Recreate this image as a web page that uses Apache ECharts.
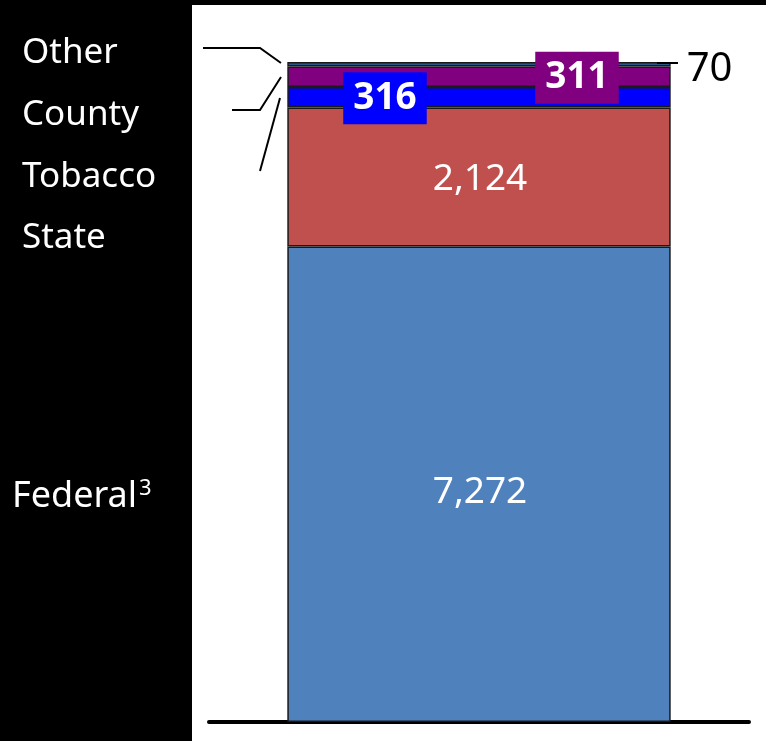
<!DOCTYPE html>
<html>
<head>
<meta charset="utf-8">
<script src="https://cdn.jsdelivr.net/npm/echarts@6/dist/echarts.min.js"></script>
<style>
html,body{margin:0;padding:0;background:#fff;}
#chart{width:766px;height:741px;}
</style>
</head>
<body>
<div id="chart"></div>
<script>
const categories = ['Total'];
const seriesNames = ['Federal', 'State', 'Tobacco', 'County', 'Other'];
const federal = [7272];
const state = [2124];
const tobacco = [316];
const county = [311];
const other = [70];

const FONT = '"Noto Sans", "Open Sans", sans-serif';
const fmt = p => Number(p.value).toLocaleString('en-US');
const border = { borderColor: '#1a1a1a', borderWidth: 1.5 };

const chart = echarts.init(document.getElementById('chart'));
chart.setOption({
  backgroundColor: '#ffffff',
  animation: false,
  grid: { left: 209, right: 17, top: 62, bottom: 19 },
  xAxis: {
    type: 'category', data: categories,
    axisLine: { show: true, lineStyle: { color: '#000', width: 4 } },
    axisTick: { show: false }, axisLabel: { show: false }
  },
  yAxis: { type: 'value', min: 0, max: v => v.max, show: false, splitLine: { show: false } },
  series: [
    { name: seriesNames[0], type: 'bar', stack: 't', barWidth: '71%', data: federal,
      itemStyle: Object.assign({ color: '#4f81bd' }, border),
      label: { show: true, position: 'inside', offset: [1, 8], color: '#fff', fontFamily: FONT, fontSize: 37, formatter: fmt } },
    { name: seriesNames[1], type: 'bar', stack: 't', data: state,
      itemStyle: Object.assign({ color: '#c0504d' }, border),
      label: { show: true, position: 'inside', offset: [1, 2], color: '#fff', fontFamily: FONT, fontSize: 37, formatter: fmt } },
    { name: seriesNames[2], type: 'bar', stack: 't', data: tobacco,
      itemStyle: Object.assign({ color: '#0000ff' }, border),
      label: { show: true, position: 'inside', offset: [-94, 1], color: '#fff', fontFamily: FONT, fontWeight: 'bold', fontSize: 37,
        backgroundColor: '#0000ff', padding: [7, 10, 5, 10], lineHeight: 40, formatter: fmt } },
    { name: seriesNames[3], type: 'bar', stack: 't', data: county,
      itemStyle: Object.assign({ color: '#800080' }, border),
      label: { show: true, position: 'inside', offset: [98, 1], color: '#fff', fontFamily: FONT, fontWeight: 'bold', fontSize: 37,
        backgroundColor: '#800080', padding: [7, 10, 5, 10], lineHeight: 40, formatter: fmt } },
    { name: seriesNames[4], type: 'bar', stack: 't', data: other,
      itemStyle: Object.assign({ color: '#2b5689' }, border),
      label: { show: true, position: 'right', distance: 16, offset: [0, 5], color: '#000', fontFamily: FONT, fontSize: 40, formatter: fmt } }
  ],
  graphic: [
    { type: 'rect', shape: { x: 0, y: 0, width: 192, height: 741 }, style: { fill: '#000' }, z: -10 },
    { type: 'rect', shape: { x: 0, y: 0, width: 766, height: 5 }, style: { fill: '#000' }, z: -10 },
    { type: 'text', x: 22, y: 53, style: { text: seriesNames[4], fill: '#fff', font: '35px ' + FONT, verticalAlign: 'middle' } },
    { type: 'text', x: 22, y: 115, style: { text: seriesNames[3], fill: '#fff', font: '35px ' + FONT, verticalAlign: 'middle' } },
    { type: 'text', x: 22, y: 177, style: { text: seriesNames[2], fill: '#fff', font: '35px ' + FONT, verticalAlign: 'middle' } },
    { type: 'text', x: 22, y: 238, style: { text: seriesNames[1], fill: '#fff', font: '35px ' + FONT, verticalAlign: 'middle' } },
    { type: 'text', x: 12, y: 497, style: { text: seriesNames[0], fill: '#fff', font: '36px ' + FONT, verticalAlign: 'middle' } },
    { type: 'text', x: 139, y: 489, style: { text: '3', fill: '#fff', font: '22px ' + FONT, verticalAlign: 'middle' } },
    { type: 'polyline', shape: { points: [[203, 48], [260, 48], [281, 63]] }, style: { stroke: '#000', lineWidth: 2, fill: null } },
    { type: 'polyline', shape: { points: [[232, 110], [260, 110], [281, 77]] }, style: { stroke: '#000', lineWidth: 2, fill: null } },
    { type: 'polyline', shape: { points: [[280, 98], [260, 171]] }, style: { stroke: '#000', lineWidth: 2, fill: null } },
    { type: 'polyline', shape: { points: [[657, 63], [678, 63]] }, style: { stroke: '#000', lineWidth: 2, fill: null }, z: 100 }
  ]
});
</script>
</body>
</html>
